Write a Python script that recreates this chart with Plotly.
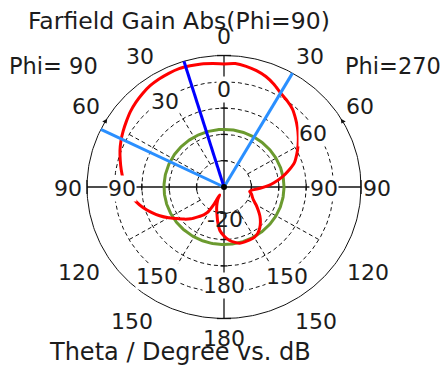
import numpy as np
import plotly.graph_objects as go

# ---- farfield cut data (gain in dB versus theta in degrees) ----
theta_phi90 = [0, 5, 10, 15, 20, 25, 30, 35, 40, 45, 50, 55, 60, 65, 70, 75, 80, 85,
               90, 95, 100, 105, 110, 115, 120, 125, 130, 135, 140, 145, 148, 151,
               152, 154, 158, 162, 166, 170, 175, 180]
gain_phi90 = [6.8, 7.1, 7.5, 7.7, 7.9, 7.7, 7.4, 7.0, 6.3, 5.5, 4.6, 3.5, 2.5, 1.5,
              0.4, -0.8, -1.9, -3.0, -4.3, -5.8, -7.5, -9.5, -11.8, -14.1, -16.6,
              -19.1, -21.0, -22.9, -25.2, -27.1, -28.6, -32.4, -36.6, -35.1, -33.2,
              -31.3, -29.4, -26.7, -23.3, -21.4]

theta_phi270 = [0, 5, 10, 15, 20, 25, 30, 35, 40, 45, 50, 55, 60, 65, 70, 75, 80, 85,
                88, 92, 96, 100, 105, 110, 115, 120, 125, 130, 135, 140, 145, 150,
                155, 160, 165, 170, 175, 180]
gain_phi270 = [6.8, 7.1, 6.6, 5.8, 4.7, 3.1, 1.3, 0.1, -1.2, -3.1, -5.0, -6.9, -8.8,
               -10.7, -12.6, -15.5, -18.5, -21.7, -23.6, -26.8, -29.5, -30.5, -29.6,
               -29.0, -28.1, -26.5, -24.8, -22.9, -21.2, -19.7, -18.5, -17.9, -17.8,
               -17.8, -17.9, -18.7, -19.8, -21.4]

main_lobe_theta_phi90 = 17      # main lobe direction
beam_edge_theta_phi90 = 64      # angular width limits
beam_edge_theta_phi270 = 30
side_lobe_level_db = -18.1

db_min, db_max = -40, 10
grid_db = [-30, -20, -10, 0]
angle_ticks = [30, 60, 120, 150]

# ---- canvas geometry ----
W, H = 443, 367
CX, CY = 224, 187          # pole position in pixels
SX, SY = 137, 131.5        # outer ring radius in pixels (x, y)


def rnorm(db):
    return (np.asarray(db, dtype=float) - db_min) / (db_max - db_min)


def to_xy(psi_deg, r):
    a = np.radians(np.asarray(psi_deg, dtype=float))
    r = np.asarray(r, dtype=float)
    return r * np.sin(a), r * np.cos(a)


def at(px, py):
    return (px - CX) / SX, (CY - py) / SY


fig = go.Figure()

# dashed dB rings
ring = np.linspace(0, 360, 361)
gx, gy = [], []
for d in grid_db:
    x, y = to_xy(ring, np.full_like(ring, rnorm(d)))
    gx += list(x) + [None]
    gy += list(y) + [None]
# dashed radial spokes
for a in angle_ticks:
    for s in (-1, 1):
        x, y = to_xy([s * a, s * a], [rnorm(grid_db[0]), rnorm(grid_db[-1])])
        gx += list(x) + [None]
        gy += list(y) + [None]
fig.add_trace(go.Scatter(x=gx, y=gy, mode="lines",
                         line=dict(color="#111111", width=1, dash="4px,3px"),
                         hoverinfo="skip", showlegend=False))

# outer ring
x, y = to_xy(ring, np.ones_like(ring))
fig.add_trace(go.Scatter(x=x, y=y, mode="lines",
                         line=dict(color="#111111", width=1),
                         hoverinfo="skip", showlegend=False))

# small direction arrows on the outer ring
ax_, ay_ = to_xy([-60, 60], [1, 1])
fig.add_trace(go.Scatter(x=ax_, y=ay_, mode="markers",
                         marker=dict(symbol=["triangle-down", "triangle-down"],
                                     size=5, color="#111111",
                                     angle=[-30, 30]),
                         hoverinfo="skip", showlegend=False))

# main axes with ticks at every ring
ax_x = [-1, 1, None, 0, 0, None]
ax_y = [0, 0, None, -1, 1, None]
tl = 3.5
for d in grid_db:
    r = float(rnorm(d))
    for s in (-1, 1):
        ax_x += [s * r, s * r, None]
        ax_y += [-tl / SY, tl / SY, None]
        ax_x += [-tl / SX, tl / SX, None]
        ax_y += [s * r, s * r, None]
for s in (-1, 1):
    ax_x += [s * 1, s * 1, None]
    ax_y += [-7 / SY, 7 / SY, None]
    ax_x += [-7 / SX, 7 / SX, None]
    ax_y += [s * 1, s * 1, None]
fig.add_trace(go.Scatter(x=ax_x, y=ax_y, mode="lines",
                         line=dict(color="#111111", width=1.3),
                         hoverinfo="skip", showlegend=False))

# side lobe level ring
x, y = to_xy(ring, np.full_like(ring, rnorm(side_lobe_level_db)))
fig.add_trace(go.Scatter(x=x, y=y, mode="lines",
                         line=dict(color="#6b9a2f", width=3),
                         hoverinfo="skip", showlegend=False))

# gain pattern: phi=90 on the left (negative side), phi=270 on the right
psi = [-t for t in theta_phi90[::-1]] + list(theta_phi270)
gain = list(gain_phi90[::-1]) + list(gain_phi270)
x, y = to_xy(psi, rnorm(gain))
fig.add_trace(go.Scatter(x=x, y=y, mode="lines",
                         line=dict(color="#ff0000", width=3, shape="spline",
                                   smoothing=0.6),
                         hoverinfo="skip", showlegend=False))

# angular width lines
bx, by = [], []
for p in (-beam_edge_theta_phi90, beam_edge_theta_phi270):
    x, y = to_xy([p, p], [0, 1])
    bx += list(x) + [None]
    by += list(y) + [None]
fig.add_trace(go.Scatter(x=bx, y=by, mode="lines",
                         line=dict(color="#2a8fff", width=3),
                         hoverinfo="skip", showlegend=False))

# main lobe direction
x, y = to_xy([-main_lobe_theta_phi90] * 2, [0, 1])
fig.add_trace(go.Scatter(x=x, y=y, mode="lines",
                         line=dict(color="#0000ff", width=3),
                         hoverinfo="skip", showlegend=False))

fig.add_trace(go.Scatter(x=[0], y=[0], mode="markers",
                         marker=dict(color="#000000", size=6),
                         hoverinfo="skip", showlegend=False))


def label(text, px, py, size=22, bg=None):
    x, y = at(px, py)
    kw = dict(x=x, y=y, xref="x", yref="y", text=text, showarrow=False,
              font=dict(family="DejaVu Sans", size=size, color="#1c1c1c"),
              xanchor="center", yanchor="middle")
    if bg:
        kw.update(bgcolor=bg, borderpad=0)
    fig.add_annotation(**kw)


# titles
label("Farfield Gain Abs(Phi=90)", 179, 21, size=23.5)
label("Theta / Degree vs. dB", 180, 352, size=24)
label("Phi= 90", 53, 66, size=22.5)
label("Phi=270", 393, 66, size=22.5)

# outer theta labels
outer = [("0", 224, 36), ("30", 140, 56), ("30", 310, 56), ("60", 86, 106),
         ("60", 360, 106), ("90", 68, 188), ("90", 377, 188), ("120", 79, 272),
         ("120", 368, 272), ("150", 132, 321), ("150", 316, 321), ("180", 224, 338)]
for t, px, py in outer:
    label(t, px, py)

# inner labels
inner = [("0", 224, 89), ("30", 165, 101), ("60", 313, 133), ("90", 122, 188),
         ("90", 324, 188), ("150", 157, 276), ("150", 287, 276), ("180", 224, 285)]
for t, px, py in inner:
    label(t, px, py, bg="white")
label("-20", 225, 219)

fig.update_layout(
    width=W, height=H, margin=dict(l=0, r=0, t=0, b=0),
    paper_bgcolor="white", plot_bgcolor="white", showlegend=False,
    xaxis=dict(range=[(0 - CX) / SX, (W - CX) / SX], visible=False, fixedrange=True),
    yaxis=dict(range=[(CY - H) / SY, CY / SY], visible=False, fixedrange=True),
)

fig.write_html("out.html", config={"displayModeBar": False})
